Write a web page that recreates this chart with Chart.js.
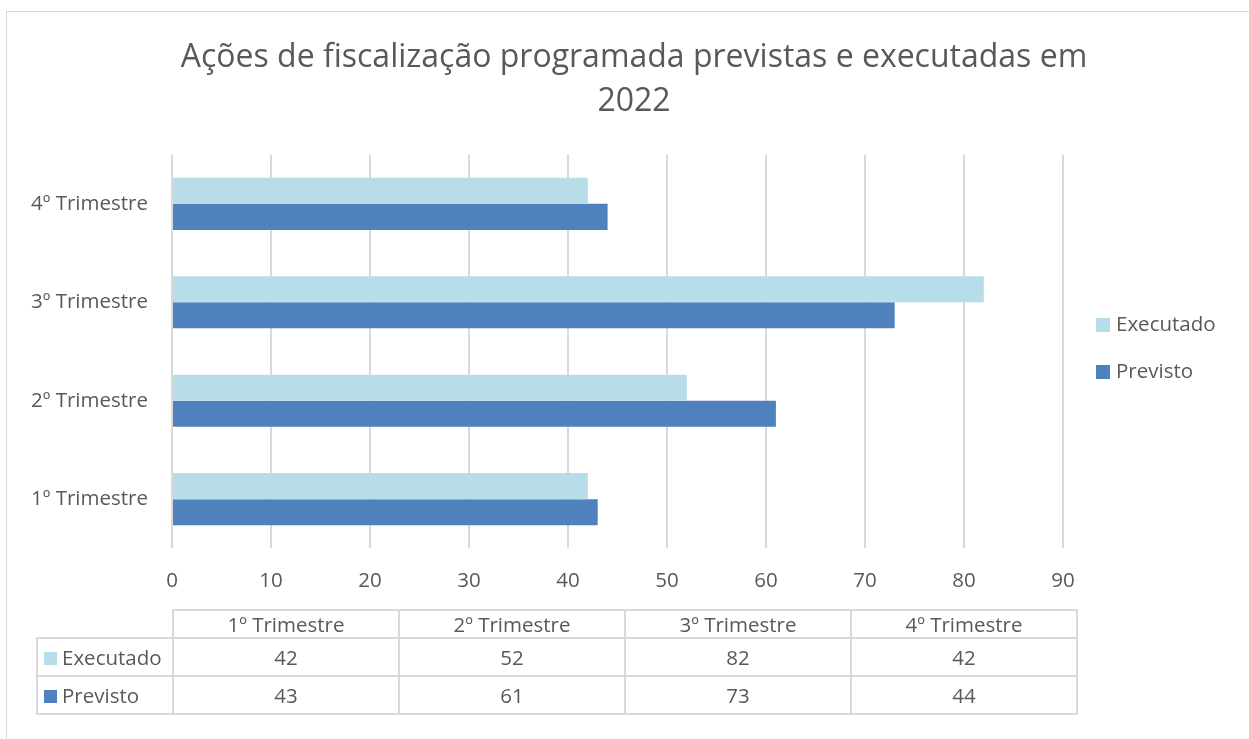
<!DOCTYPE html>
<html>
<head>
<meta charset="utf-8">
<script src="https://cdn.jsdelivr.net/npm/chart.js@4"></script>
<style>
  html, body { margin:0; padding:0; background:#fff; }
  #wrap { position:relative; width:1249px; height:739px; overflow:hidden; }
  #frame { position:absolute; left:6px; top:11px; width:1300px; height:800px; border:1px solid #D9D9D9; box-sizing:border-box; }
  #c { position:absolute; left:0; top:0; }
  #tbl { position:absolute; left:36px; top:609px; border-collapse:collapse; font-family:"Open Sans", sans-serif; font-size:20.5px; color:#595959; }
  #tbl td { border:2px solid #D9D9D9; text-align:center; padding:0; line-height:24px; }
  #tbl td.lab { text-align:left; padding-left:6px; width:128px; white-space:nowrap; }
  #tbl td.num { width:224px; }
  #tbl td.blank { border:none; border-right:2px solid #D9D9D9; border-bottom:2px solid #D9D9D9; }
  #tbl tr.h td { height:26px; line-height:22px; }
  #tbl tr.r td { height:36px; }
  .key { display:inline-block; width:13px; height:13px; margin-right:5px; vertical-align:0px; }
  #legend { position:absolute; left:1096px; top:0; font-family:"Open Sans", sans-serif; font-size:20.5px; color:#595959; }
  #legend div { position:absolute; white-space:nowrap; line-height:24px; }
  #legend span.k { display:inline-block; width:14px; height:14px; margin-right:6px; vertical-align:-1px; }
</style>
</head>
<body>
<div id="wrap">
  <div id="frame"></div>
  <canvas id="c" width="1249" height="739"></canvas>
  <div id="legend"></div>
  <table id="tbl"></table>
</div>
<script>
const categories = ['1º Trimestre', '2º Trimestre', '3º Trimestre', '4º Trimestre'];
const executado = [42, 52, 82, 42];
const previsto = [43, 61, 73, 44];
const seriesNames = ['Executado', 'Previsto'];
const seriesColors = ['#B7DDE8', '#4F81BD'];
const titleLines = ['Ações de fiscalização programada previstas e executadas em', '2022'];
const xTicks = [0, 10, 20, 30, 40, 50, 60, 70, 80, 90];

const FONT = '"Open Sans", sans-serif';
const TXT = '#595959';

Chart.defaults.font.family = FONT;
Chart.defaults.color = TXT;

const chart = new Chart(document.getElementById('c'), {
  type: 'bar',
  data: {
    labels: categories,
    datasets: [
      { label: seriesNames[0], data: executado, backgroundColor: seriesColors[0], categoryPercentage: 0.53, barPercentage: 1.0 },
      { label: seriesNames[1], data: previsto, backgroundColor: seriesColors[1], categoryPercentage: 0.53, barPercentage: 1.0 }
    ]
  },
  options: {
    indexAxis: 'y',
    responsive: false,
    animation: false,
    layout: { padding: { left: 19, right: 0, top: 0, bottom: 126 } },
    plugins: {
      title: {
        display: true,
        text: titleLines,
        font: { size: 32, weight: 'normal', family: FONT, lineHeight: 1.4 },
        color: TXT,
        padding: { top: 35, bottom: 30 }
      },
      legend: { display: false },
      tooltip: { enabled: false }
    },
    scales: {
      x: {
        min: 0, max: 90,
        afterBuildTicks: s => { s.ticks = xTicks.map(v => ({ value: v })); },
        grid: { color: '#D9D9D9', lineWidth: 2, drawTicks: false },
        border: { display: false },
        ticks: { font: { size: 20.5 }, color: TXT, padding: 20 }
      },
      y: {
        reverse: true,
        afterFit: s => { s.width = 153; },
        grid: { display: false },
        border: { display: false },
        ticks: { font: { size: 20.5 }, color: TXT, padding: 16 }
      },
      yRight: {
        position: 'right',
        display: true,
        afterFit: s => { s.width = 186; },
        grid: { display: false },
        border: { display: false },
        ticks: { display: false }
      }
    }
  }
});

// legend built from series arrays
const lg = document.getElementById('legend');
const legendTops = [311, 358];
seriesNames.forEach((n, i) => {
  const d = document.createElement('div');
  d.style.top = legendTops[i] + 'px';
  d.innerHTML = '<span class="k" style="background:' + seriesColors[i] + '"></span>' + n;
  lg.appendChild(d);
});

// data table built from the same arrays
const tbl = document.getElementById('tbl');
let html = '<tr class="h"><td class="blank"></td>' + categories.map(c => '<td class="num">' + c + '</td>').join('') + '</tr>';
[executado, previsto].forEach((arr, i) => {
  html += '<tr class="r"><td class="lab"><span class="key" style="background:' + seriesColors[i] + '"></span>' + seriesNames[i] + '</td>' +
    arr.map(v => '<td class="num">' + v + '</td>').join('') + '</tr>';
});
tbl.innerHTML = html;
</script>
</body>
</html>
